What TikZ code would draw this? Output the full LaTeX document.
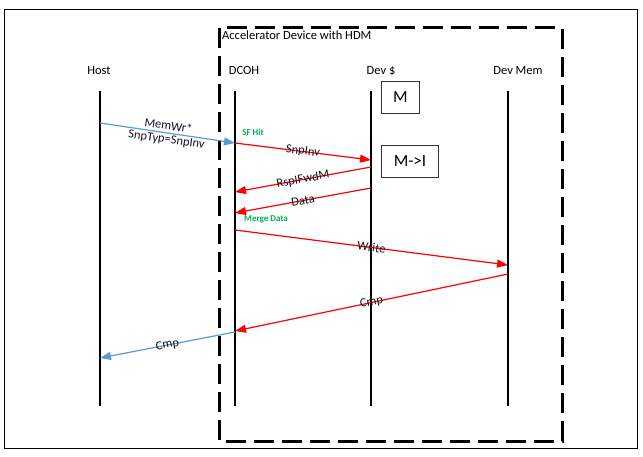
\documentclass[tikz,border=0pt]{standalone}
\usepackage{fontspec}
\setmainfont{Carlito}
\usetikzlibrary{arrows.meta}
\definecolor{msgblue}{RGB}{91,155,213}
\definecolor{notegreen}{RGB}{0,176,80}
\definecolor{lbltext}{RGB}{20,20,40}
\begin{document}
\begin{tikzpicture}[x=1pt,y=-1pt,
  life/.style={line width=1.2pt,black},
  hdr/.style={font=\fontsize{12.5}{14}\selectfont,anchor=base},
  msg/.style={line width=1.2pt,-{Triangle[length=11pt,width=8pt]}},
  red msg/.style={msg,red},
  blue msg/.style={msg,msgblue},
  lbl/.style={font=\fontsize{12.5}{12}\selectfont,text=lbltext,sloped,midway,inner sep=0pt},
  note/.style={font=\bfseries\fontsize{9}{10}\selectfont,text=notegreen,inner sep=0pt},
  state/.style={draw=black!80,line width=1pt,font=\fontsize{17}{19}\selectfont,inner sep=0pt,anchor=north west}]
\useasboundingbox (0,0) rectangle (643,457);
% outer frame
\draw[line width=1pt] (4,10) rectangle (637,448);
% device boundary
\draw[line width=3pt,dash pattern=on 20pt off 8pt] (219,28) rectangle (562,441);
\node[font=\fontsize{12.5}{14}\selectfont,anchor=base west,inner sep=0pt] (dev) at (222,40) {Accelerator Device with HDM};
% headers
\node[hdr] (hHost) at (99,75) {Host};
\node[hdr] (hDcoh) at (244,75) {DCOH};
\node[hdr] (hDev) at (381,75) {Dev \$};
\node[hdr] (hMem) at (518,75) {Dev Mem};
% lifelines
\coordinate (hostT) at (100,91); \coordinate (hostB) at (100,406);
\coordinate (dcohT) at (235,91); \coordinate (dcohB) at (235,406);
\coordinate (devT) at (371,91);  \coordinate (devB) at (371,406);
\coordinate (memT) at (508,91);  \coordinate (memB) at (508,406);
\draw[life] (hostT) -- (hostB);
\draw[life] (dcohT) -- (dcohB);
\draw[life] (devT) -- (devB);
\draw[life] (memT) -- (memB);
% state boxes
\node[state,minimum width=38pt,minimum height=32pt] (sM) at (381,81) {M};
\node[state,minimum width=57pt,minimum height=32pt] (sMI) at (381,145) {M->I};
% message end points
\coordinate (a1) at (100,123); \coordinate (a2) at (235,143);
\coordinate (b2) at (371,160);
\coordinate (c1) at (371,167); \coordinate (c2) at (235,192);
\coordinate (d1) at (371,188); \coordinate (d2) at (235,213);
\coordinate (e1) at (235,230); \coordinate (e2) at (508,265);
\coordinate (f1) at (508,274); \coordinate (f2) at (235,331);
\coordinate (g1) at (235,332); \coordinate (g2) at (100,358);
% messages
\draw[blue msg] (a1) -- (a2) node[lbl,align=center,font=\fontsize{12.5}{13.5}\selectfont] {MemWr*\\SnpTyp=SnpInv};
\draw[red msg] (a2) -- (b2) node[lbl] {SnpInv};
\draw[red msg] (c1) -- (c2) node[lbl] {RspIFwdM};
\draw[red msg] (d1) -- (d2) node[lbl] {Data};
\draw[red msg] (e1) -- (e2) node[lbl] {Write};
\draw[red msg] (f1) -- (f2) node[lbl] {Cmp};
\draw[blue msg] (g1) -- (g2) node[lbl] {Cmp};
% notes
\node[note] (nSF) at (253,132) {SF Hit};
\node[note] (nMerge) at (266,219) {Merge Data};
\end{tikzpicture}
\end{document}
